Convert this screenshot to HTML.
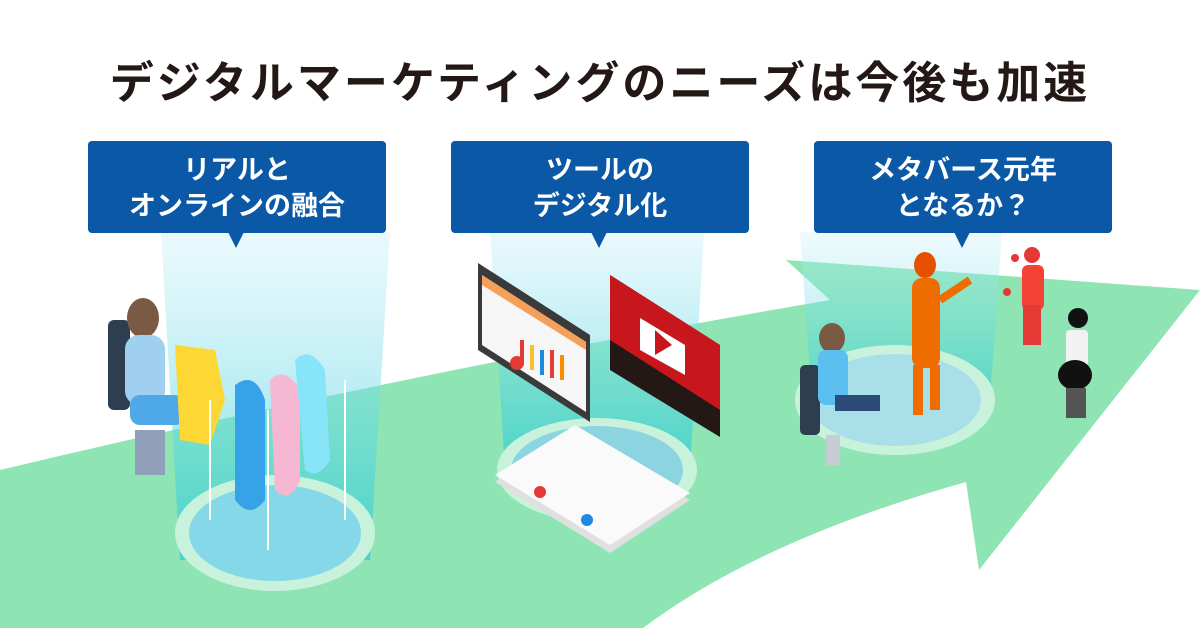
<!DOCTYPE html>
<html><head><meta charset="utf-8"><style>
body{margin:0;width:1200px;height:628px;overflow:hidden;background:#fff;font-family:"Liberation Sans","Noto Sans CJK JP",sans-serif;position:relative}
.t{position:absolute;top:47px;left:0;width:1200px;text-align:center;font-size:44px;font-weight:bold;color:#231815;letter-spacing:3px}
.b{position:absolute;top:141px;width:298px;height:92px;background:#0b58a6;border-radius:4px;color:#fff;font-size:27px;font-weight:bold;text-align:center;line-height:36px;padding-top:11px;box-sizing:border-box}
svg{position:absolute;left:0;top:0}
</style></head><body>
<svg width="1200" height="628">
<defs>
<linearGradient id="g" x1="0" y1="0" x2="0" y2="1"><stop offset="0" stop-color="#c8f0f8" stop-opacity=".5"/><stop offset="1" stop-color="#1fc8d8" stop-opacity=".85"/></linearGradient>
</defs>
<path d="M0,470 Q420,370 830,300 L786,260 L1200,290 L979,570 L966,482 Q760,540 643,628 L0,628 Z" fill="#8ee5b3"/>
<polygon points="161,232 390,232 370,560 180,560" fill="url(#g)" opacity=".75"/>
<polygon points="490,232 704,232 690,470 505,470" fill="url(#g)" opacity=".75"/>
<polygon points="800,232 1002,232 990,400 812,400" fill="url(#g)" opacity=".6"/>
<ellipse cx="275" cy="533" rx="100" ry="58" fill="#c8f2dc"/><ellipse cx="275" cy="533" rx="86" ry="48" fill="#84d8e8"/>
<ellipse cx="597" cy="470" rx="100" ry="52" fill="#c8f2dc"/><ellipse cx="597" cy="470" rx="86" ry="44" fill="#8cd4e0"/>
<ellipse cx="895" cy="400" rx="100" ry="55" fill="#c8f2dc"/><ellipse cx="895" cy="400" rx="86" ry="46" fill="#a8dfe8"/>
<rect x="108" y="320" width="22" height="90" rx="6" fill="#2c3e50"/>
<ellipse cx="143" cy="318" rx="16" ry="20" fill="#7a5a42"/>
<rect x="125" y="335" width="40" height="70" rx="14" fill="#9fd0f0"/>
<rect x="130" y="395" width="55" height="30" rx="10" fill="#4fa8e8"/>
<path d="M175,345 L215,350 L225,400 L210,445 L180,440 Z" fill="#fdd835"/>
<path d="M235,385 Q255,370 265,400 L265,500 Q250,520 235,500 Z" fill="#36a3e8"/>
<path d="M270,380 Q285,365 300,390 L300,480 Q290,505 275,490 Z" fill="#f5b7d2"/>
<path d="M295,360 Q310,345 325,370 L330,460 Q318,480 305,470 Z" fill="#88e4f8"/>
<line x1="210" y1="520" x2="210" y2="400" stroke="#fff" stroke-width="2"/><line x1="268" y1="550" x2="268" y2="410" stroke="#fff" stroke-width="2"/>
<line x1="345" y1="520" x2="345" y2="380" stroke="#fff" stroke-width="2"/>
<rect x="135" y="430" width="30" height="45" fill="#8fa0b8"/>
<polygon points="478,263 590,335 590,422 478,350" fill="#3a3a3a"/>
<polygon points="482,275 586,342 586,412 482,345" fill="#f6f6f6"/>
<polygon points="482,275 586,342 586,350 482,285" fill="#f5a05a"/>
<rect x="520" y="340" width="4" height="25" fill="#e53935"/><rect x="530" y="345" width="4" height="25" fill="#fbc02d"/><rect x="540" y="350" width="4" height="25" fill="#1e88e5"/><rect x="550" y="350" width="4" height="28" fill="#e53935"/><rect x="560" y="355" width="4" height="25" fill="#fb8c00"/>
<circle cx="517" cy="363" r="7" fill="#e53935"/>
<polygon points="610,275 720,345 720,437 610,370" fill="#231815"/>
<polygon points="610,275 720,345 720,410 610,340" fill="#c8161d"/>
<polygon points="640,318 685,345 685,375 640,350" fill="#fff"/>
<polygon points="655,330 672,345 655,355" fill="#c8161d"/>
<polygon points="495,482 575,430 690,500 610,553" fill="#e0e0e0"/>
<polygon points="495,475 575,425 690,493 610,545" fill="#fafafa"/>
<circle cx="540" cy="492" r="6" fill="#e53935"/><circle cx="587" cy="520" r="6" fill="#1e88e5"/>
<rect x="800" y="365" width="20" height="70" rx="5" fill="#2c3e50"/>
<ellipse cx="832" cy="338" rx="13" ry="15" fill="#7a5a42"/>
<rect x="818" y="350" width="30" height="55" rx="8" fill="#5bc0f0"/>
<rect x="835" y="395" width="45" height="16" fill="#2c4a7a"/>
<rect x="826" y="435" width="14" height="30" fill="#c8ccd4"/>
<ellipse cx="925" cy="265" rx="11" ry="13" fill="#e65100"/>
<rect x="912" y="278" width="28" height="90" rx="10" fill="#ef6c00"/>
<rect x="913" y="365" width="10" height="50" fill="#ef6c00"/><rect x="930" y="365" width="10" height="45" fill="#ef6c00"/>
<line x1="940" y1="300" x2="970" y2="280" stroke="#ef6c00" stroke-width="8"/>
<circle cx="1032" cy="255" r="8" fill="#e53935"/>
<rect x="1022" y="265" width="22" height="45" rx="6" fill="#f44336"/>
<rect x="1023" y="305" width="18" height="40" fill="#e53935"/>
<circle cx="1015" cy="258" r="4" fill="#e53935"/><circle cx="1007" cy="292" r="4" fill="#e53935"/>
<circle cx="1078" cy="318" r="10" fill="#111"/>
<rect x="1066" y="330" width="22" height="40" rx="4" fill="#f2f2f2"/>
<ellipse cx="1075" cy="375" rx="17" ry="15" fill="#111"/>
<rect x="1066" y="388" width="20" height="30" fill="#555"/>
</svg>
<div class="t">デジタルマーケティングのニーズは今後も加速</div>
<div class="b" style="left:88px">リアルと<br>オンラインの融合</div>
<div class="b" style="left:451px">ツールの<br>デジタル化</div>
<div class="b" style="left:814px">メタバース元年<br>となるか？</div>
<svg width="1200" height="628" style="pointer-events:none">
<polygon points="228,232 244,232 236,248" fill="#0b58a6"/>
<polygon points="591,232 607,232 599,248" fill="#0b58a6"/>
<polygon points="954,232 970,232 962,248" fill="#0b58a6"/>
</svg>
</body></html>
